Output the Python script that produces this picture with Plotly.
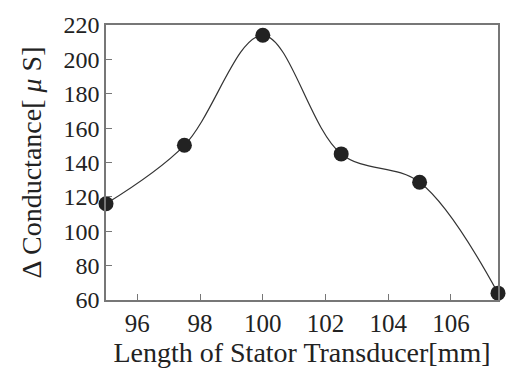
import plotly.graph_objects as go

length_mm = [95, 97.5, 100, 102.5, 105, 107.5]
delta_conductance = [116, 150, 214, 145, 128.5, 64]
x_ticks = [96, 98, 100, 102, 104, 106]
y_ticks = [60, 80, 100, 120, 140, 160, 180, 200, 220]

font_family = "Liberation Serif"

fig = go.Figure()
fig.add_trace(go.Scatter(
    x=length_mm, y=delta_conductance,
    mode="lines+markers",
    line=dict(shape="spline", smoothing=1.0, color="#333333", width=1.2),
    marker=dict(size=15, color="#222222"),
    cliponaxis=False,
    showlegend=False,
))

fig.update_layout(
    width=512, height=370,
    margin=dict(l=106, r=13, t=19, b=66),
    paper_bgcolor="white", plot_bgcolor="white",
    font=dict(family=font_family, size=24, color="#222222"),
)
fig.update_xaxes(
    range=[95, 107.5], tickvals=x_ticks,
    ticks="inside", ticklen=6, tickcolor="#777777",
    showline=True, linecolor="#777777", linewidth=1.5, mirror=True,
    showgrid=False, zeroline=False,
    tickfont=dict(size=25),
    title=dict(text="Length of Stator Transducer[mm]", font=dict(size=28), standoff=2),
)
fig.update_yaxes(
    range=[60, 220], tickvals=y_ticks,
    ticks="inside", ticklen=6, tickcolor="#777777",
    showline=True, linecolor="#777777", linewidth=1.5, mirror=True,
    showgrid=False, zeroline=False,
    tickfont=dict(size=24),
    title=dict(text="Δ Conductance[ <i>μ</i> S]", font=dict(size=28), standoff=14),
)

fig.write_html("out.html")
